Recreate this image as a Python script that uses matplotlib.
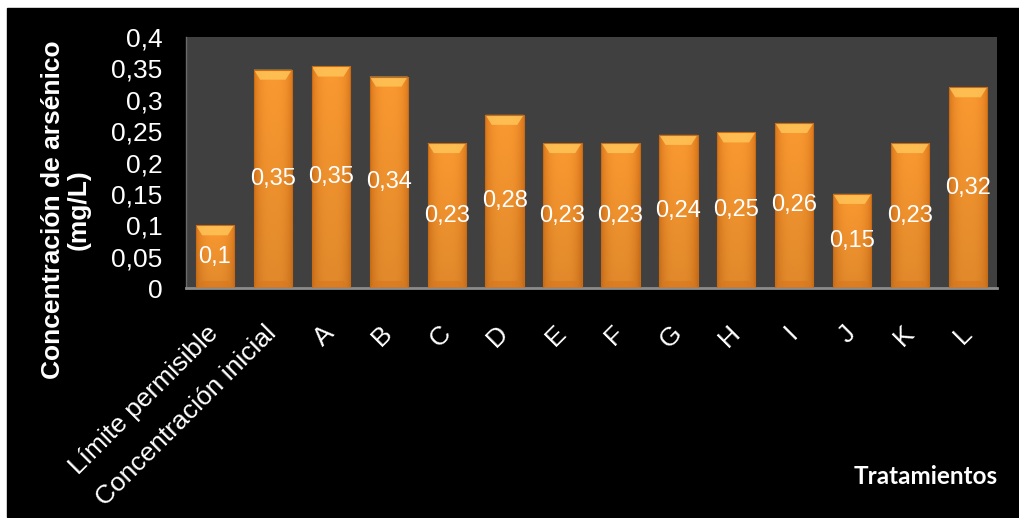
import numpy as np
import matplotlib
matplotlib.use("Agg")
import matplotlib.pyplot as plt
from matplotlib.patches import Polygon, Rectangle
from matplotlib.ticker import FuncFormatter, MultipleLocator

# ---------------------------------------------------------------------------
# Data
# ---------------------------------------------------------------------------
categories = [
    "Límite permisible", "Concentración inicial",
    "A", "B", "C", "D", "E", "F", "G", "H", "I", "J", "K", "L",
]
values = [0.100, 0.348, 0.353, 0.337, 0.231, 0.276, 0.231,
          0.231, 0.244, 0.248, 0.263, 0.150, 0.231, 0.320]

y_label = "Concentración de arsénico\n(mg/L)"
x_label = "Tratamientos"

# ---------------------------------------------------------------------------
# Styling
# ---------------------------------------------------------------------------
PLOT_BG = "#404040"
BAR_CENTER = np.array([0.98, 0.60, 0.19])
BAR_EDGE = np.array([0.86, 0.47, 0.11])
BEVEL_TOP = "#FFC75A"
BEVEL_BOTTOM = "#D9761C"
BAR_WIDTH = 0.66

plt.rcParams["font.family"] = ["Liberation Sans", "DejaVu Sans"]


def comma_fmt(v, _=None):
    s = f"{v:.2f}".rstrip("0").rstrip(".")
    return s.replace(".", ",")


fig = plt.figure(figsize=(10.2, 5.18), dpi=100)
fig.patch.set_facecolor("white")
# black frame behind everything (thin white margin left/top like the source)
fig.patches.append(Rectangle((7 / 1020, 1 / 518), 1013 / 1020, 509 / 518,
                             transform=fig.transFigure, color="black", zorder=-1))

ax = fig.add_axes([186 / 1020, 1 - 288 / 518, 811 / 1020, 251 / 518])
ax.set_facecolor(PLOT_BG)

x = np.arange(len(categories))
bars = ax.bar(x, values, width=BAR_WIDTH, color="none", zorder=2)

# horizontal gradient: darker edges, brighter centre; a bit darker toward the base
t = np.linspace(-1, 1, 60)
w = np.abs(t) ** 3
row = BAR_CENTER[None, :] * (1 - w[:, None]) + BAR_EDGE[None, :] * w[:, None]
shade = np.linspace(0.90, 1.0, 40)[:, None, None]
grad = np.clip(row[None, :, :] * shade, 0, 1)

bevel_h = 0.016
bevel_in = 0.11
for rect, v in zip(bars, values):
    x0 = rect.get_x()
    x1 = x0 + rect.get_width()
    im = ax.imshow(grad, extent=(x0, x1, 0, v), origin="lower",
                   aspect="auto", zorder=2, interpolation="bilinear")
    im.set_clip_path(rect)
    # bevelled cap on top, softer darker lip at the base
    ax.add_patch(Polygon([(x0, v), (x1, v), (x1 - bevel_in, v - bevel_h),
                          (x0 + bevel_in, v - bevel_h)],
                         closed=True, facecolor=BEVEL_TOP, edgecolor="none",
                         alpha=0.8, zorder=3))
    ax.add_patch(Polygon([(x0, 0), (x1, 0), (x1 - bevel_in, bevel_h * 0.7),
                          (x0 + bevel_in, bevel_h * 0.7)],
                         closed=True, facecolor=BEVEL_BOTTOM, edgecolor="none",
                         alpha=0.6, zorder=3))
    ax.add_patch(Rectangle((x0, 0), x1 - x0, v, facecolor="none",
                           edgecolor="#C96A15", linewidth=0.8, zorder=3))
    ax.text(rect.get_x() + rect.get_width() / 2, v / 2, comma_fmt(v),
            ha="center", va="center", color="white", fontsize=17, zorder=4)

ax.set_xlim(-0.5, len(categories) - 0.5)
ax.set_ylim(0, 0.4)
ax.yaxis.set_major_locator(MultipleLocator(0.05))
ax.yaxis.set_major_formatter(FuncFormatter(comma_fmt))

ax.set_xticks(x)
ax.set_xticklabels(categories)
ax.tick_params(axis="x", length=0, pad=30, labelsize=19, colors="white")
ax.tick_params(axis="y", length=0, pad=17, labelsize=19, colors="white")
for lbl in ax.get_xticklabels():
    lbl.set_rotation(45)
    lbl.set_ha("right")
    lbl.set_va("center")
    lbl.set_rotation_mode("anchor")

for side in ("top", "right"):
    ax.spines[side].set_visible(False)
ax.spines["bottom"].set_color("#8c8c8c")
ax.spines["bottom"].set_linewidth(2)
ax.spines["left"].set_color("#6a6a6a")
ax.spines["left"].set_linewidth(1)

fig.text(66 / 1020, 1 - 210 / 518, y_label, rotation=90, ha="center",
         va="center", multialignment="center", color="white",
         fontsize=19, fontweight="bold", linespacing=1.1)
fig.text(926 / 1020, 1 - 476 / 518, x_label, ha="center", va="center",
         color="white", fontsize=17.5, fontweight="bold",
         family=["Lato", "DejaVu Sans"])

fig.savefig("out.png", dpi=100, facecolor=fig.get_facecolor())
